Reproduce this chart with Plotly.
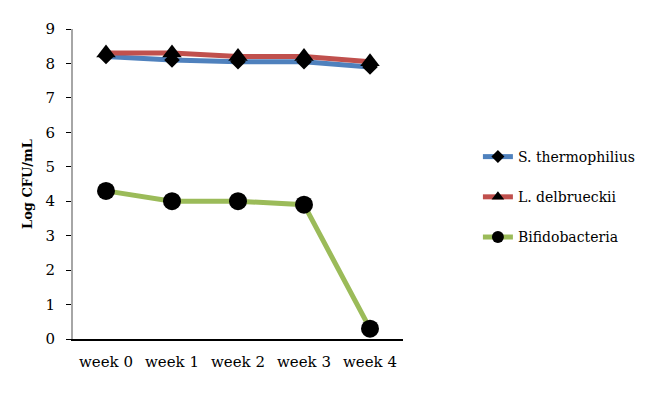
import plotly.graph_objects as go

weeks = ["week 0", "week 1", "week 2", "week 3", "week 4"]
s_thermo = [8.2, 8.1, 8.05, 8.05, 7.9]
l_delb = [8.3, 8.3, 8.2, 8.2, 8.05]
bifido = [4.3, 4.0, 4.0, 3.9, 0.3]
y_ticks = [0, 1, 2, 3, 4, 5, 6, 7, 8, 9]

FONT = "DejaVu Serif"

series = [
    ("S. thermophilius", s_thermo, "#4F81BD", "diamond", 12, 10),
    ("L. delbrueckii", l_delb, "#C0504D", "triangle-up", 17, 11),
    ("Bifidobacteria", bifido, "#9BBB59", "circle", 18, 12),
]

fig = go.Figure()
for i, (name, vals, color, sym, size, lsize) in enumerate(series):
    fig.add_trace(go.Scatter(x=weeks, y=vals, name=name, mode="lines+markers",
                             line=dict(color=color, width=5),
                             marker=dict(symbol=sym, size=size, color="black"),
                             showlegend=False))
for i, (name, vals, color, sym, size, lsize) in enumerate(series):
    fig.add_trace(go.Scatter(x=[None], y=[None], name=name, mode="lines+markers",
                             line=dict(color=color, width=5),
                             marker=dict(symbol=sym, size=lsize, color="black"),
                             legendgroup=str(i), showlegend=True))

fig.update_layout(
    width=662, height=386,
    margin=dict(l=65, r=267, t=21, b=55),
    plot_bgcolor="white", paper_bgcolor="white",
    font=dict(family=FONT, size=15, color="black"),
    showlegend=True,
    legend=dict(x=1.227, y=0.458, xanchor="left", yanchor="middle",
                traceorder="grouped", tracegroupgap=19,
                font=dict(family=FONT, size=14, color="black")),
    xaxis=dict(showline=True, linecolor="black", linewidth=1.5, ticks="",
               range=[-0.5, 4.5], showgrid=False, zeroline=False, fixedrange=True,
               ticklabelstandoff=8),
    yaxis=dict(range=[0, 9], tickvals=y_ticks, showline=True, linecolor="#A6A6A6",
               linewidth=2, ticks="outside", ticklen=5, tickcolor="black",
               showgrid=False, zeroline=False, ticklabelstandoff=8,
               title=dict(text="<b>Log CFU/mL</b>", font=dict(family=FONT, size=13), standoff=10)),
)

fig.write_html("out.html")
